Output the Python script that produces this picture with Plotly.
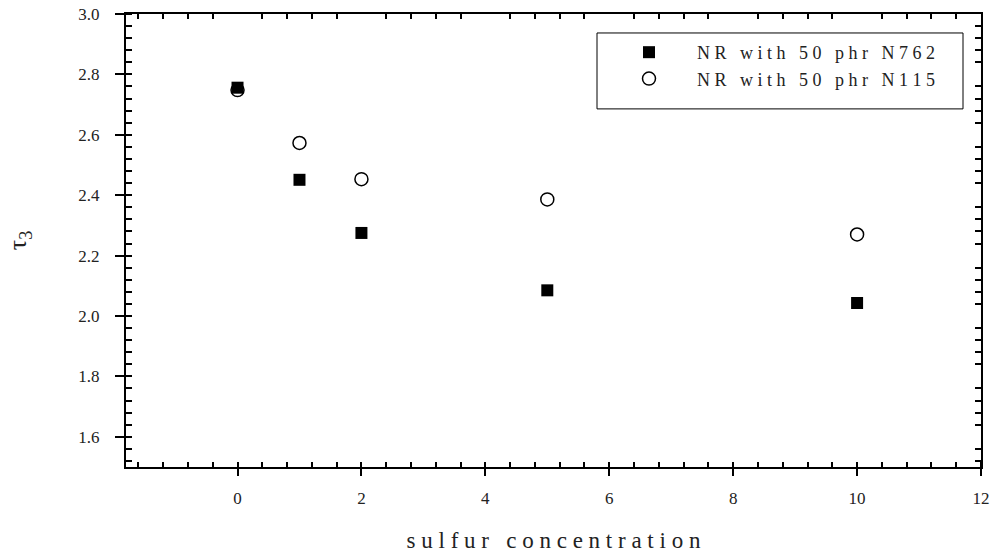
import plotly.graph_objects as go

sulfur = [0, 1, 2, 5, 10]
tau3_n762 = [2.756, 2.451, 2.275, 2.085, 2.043]
tau3_n115 = [2.748, 2.573, 2.453, 2.386, 2.270]
series_names = ["NR with 50 phr N762", "NR with 50 phr N115"]
x_title = "sulfur concentration"
y_title = "τ<sub>3</sub>"


def spaced(s, gap="\u2005"):
    # emulate the wide letter spacing of the original figure
    return gap.join(s)


FONT = "Liberation Serif"
INK = "#222222"

fig = go.Figure()
fig.add_trace(go.Scatter(
    x=sulfur, y=tau3_n762, mode="markers", name=spaced(series_names[0]),
    marker=dict(symbol="square", size=12, color="black", line=dict(width=0)),
))
fig.add_trace(go.Scatter(
    x=sulfur, y=tau3_n115, mode="markers", name=spaced(series_names[1]),
    marker=dict(symbol="circle-open", size=13, color="black", line=dict(width=1.5, color="black")),
))
# invisible trace for mirrored axes (top/right minor ticks)
fig.add_trace(go.Scatter(x=[0], y=[2], xaxis="x2", yaxis="y2", mode="markers",
                         marker=dict(opacity=0), showlegend=False, hoverinfo="skip"))

xr = [-1.8, 12]
yr = [1.5, 3.0]

PL, PR, PT, PB = 126, 981, 14, 467.5
PW, PH = PR - PL, PB - PT


def px(x):
    return (x - PL) / PW


def py(y):
    return (PB - y) / PH


fig.update_layout(
    width=997, height=557,
    margin=dict(l=PL, r=997 - PR, t=PT, b=557 - PB, autoexpand=False),
    paper_bgcolor="white", plot_bgcolor="white",
    font=dict(family=FONT, color=INK, size=15),
    showlegend=True,
    legend=dict(
        x=px(601), y=py(34), xanchor="left", yanchor="top",
        bgcolor="rgba(0,0,0,0)", borderwidth=0,
        font=dict(family=FONT, size=18, color=INK),
        itemwidth=86, tracegroupgap=0,
    ),
    xaxis=dict(
        range=xr, showgrid=False, zeroline=False, automargin=False,
        showline=True, linecolor="black", linewidth=2, mirror=True,
        tickmode="linear", tick0=0, dtick=2,
        ticks="outside", ticklen=7, tickwidth=2, tickcolor="black",
        ticklabelstandoff=8,
        tickfont=dict(family=FONT, size=17, color=INK),
        minor=dict(ticks="inside", ticklen=5, tickwidth=1.5, tickcolor="black",
                   tick0=0, dtick=0.4, showgrid=False),
        title=dict(text=spaced(x_title), font=dict(family=FONT, size=23, color=INK), standoff=24),
    ),
    yaxis=dict(
        range=yr, showgrid=False, zeroline=False, automargin=False,
        showline=True, linecolor="black", linewidth=2, mirror=True,
        tickmode="linear", tick0=1.6, dtick=0.2, tickformat=".1f",
        ticks="outside", ticklen=9, tickwidth=2, tickcolor="black",
        ticklabelstandoff=12,
        tickfont=dict(family=FONT, size=17, color=INK),
        minor=dict(ticks="inside", ticklen=6, tickwidth=1.5, tickcolor="black",
                   tick0=0, dtick=0.04, showgrid=False),
        title=dict(text=y_title, font=dict(family=FONT, size=26, color=INK), standoff=44),
    ),
    xaxis2=dict(
        range=xr, overlaying="x", side="top", showgrid=False, zeroline=False,
        automargin=False,
        showline=False, showticklabels=False, ticks="",
        tickmode="linear", tick0=0, dtick=2,
        minor=dict(ticks="inside", ticklen=5, tickwidth=1.5, tickcolor="black",
                   tick0=0, dtick=0.4, showgrid=False),
    ),
    yaxis2=dict(
        range=yr, overlaying="y", side="right", showgrid=False, zeroline=False,
        automargin=False,
        showline=False, showticklabels=False, ticks="",
        tickmode="linear", tick0=1.6, dtick=0.2,
        minor=dict(ticks="inside", ticklen=6, tickwidth=1.5, tickcolor="black",
                   tick0=0, dtick=0.04, showgrid=False),
    ),
    shapes=[dict(type="rect", xref="paper", yref="paper",
                 x0=px(597), x1=px(963), y0=py(109), y1=py(33),
                 line=dict(color="black", width=1), fillcolor="rgba(0,0,0,0)")],
)

fig.write_html("out.html")
